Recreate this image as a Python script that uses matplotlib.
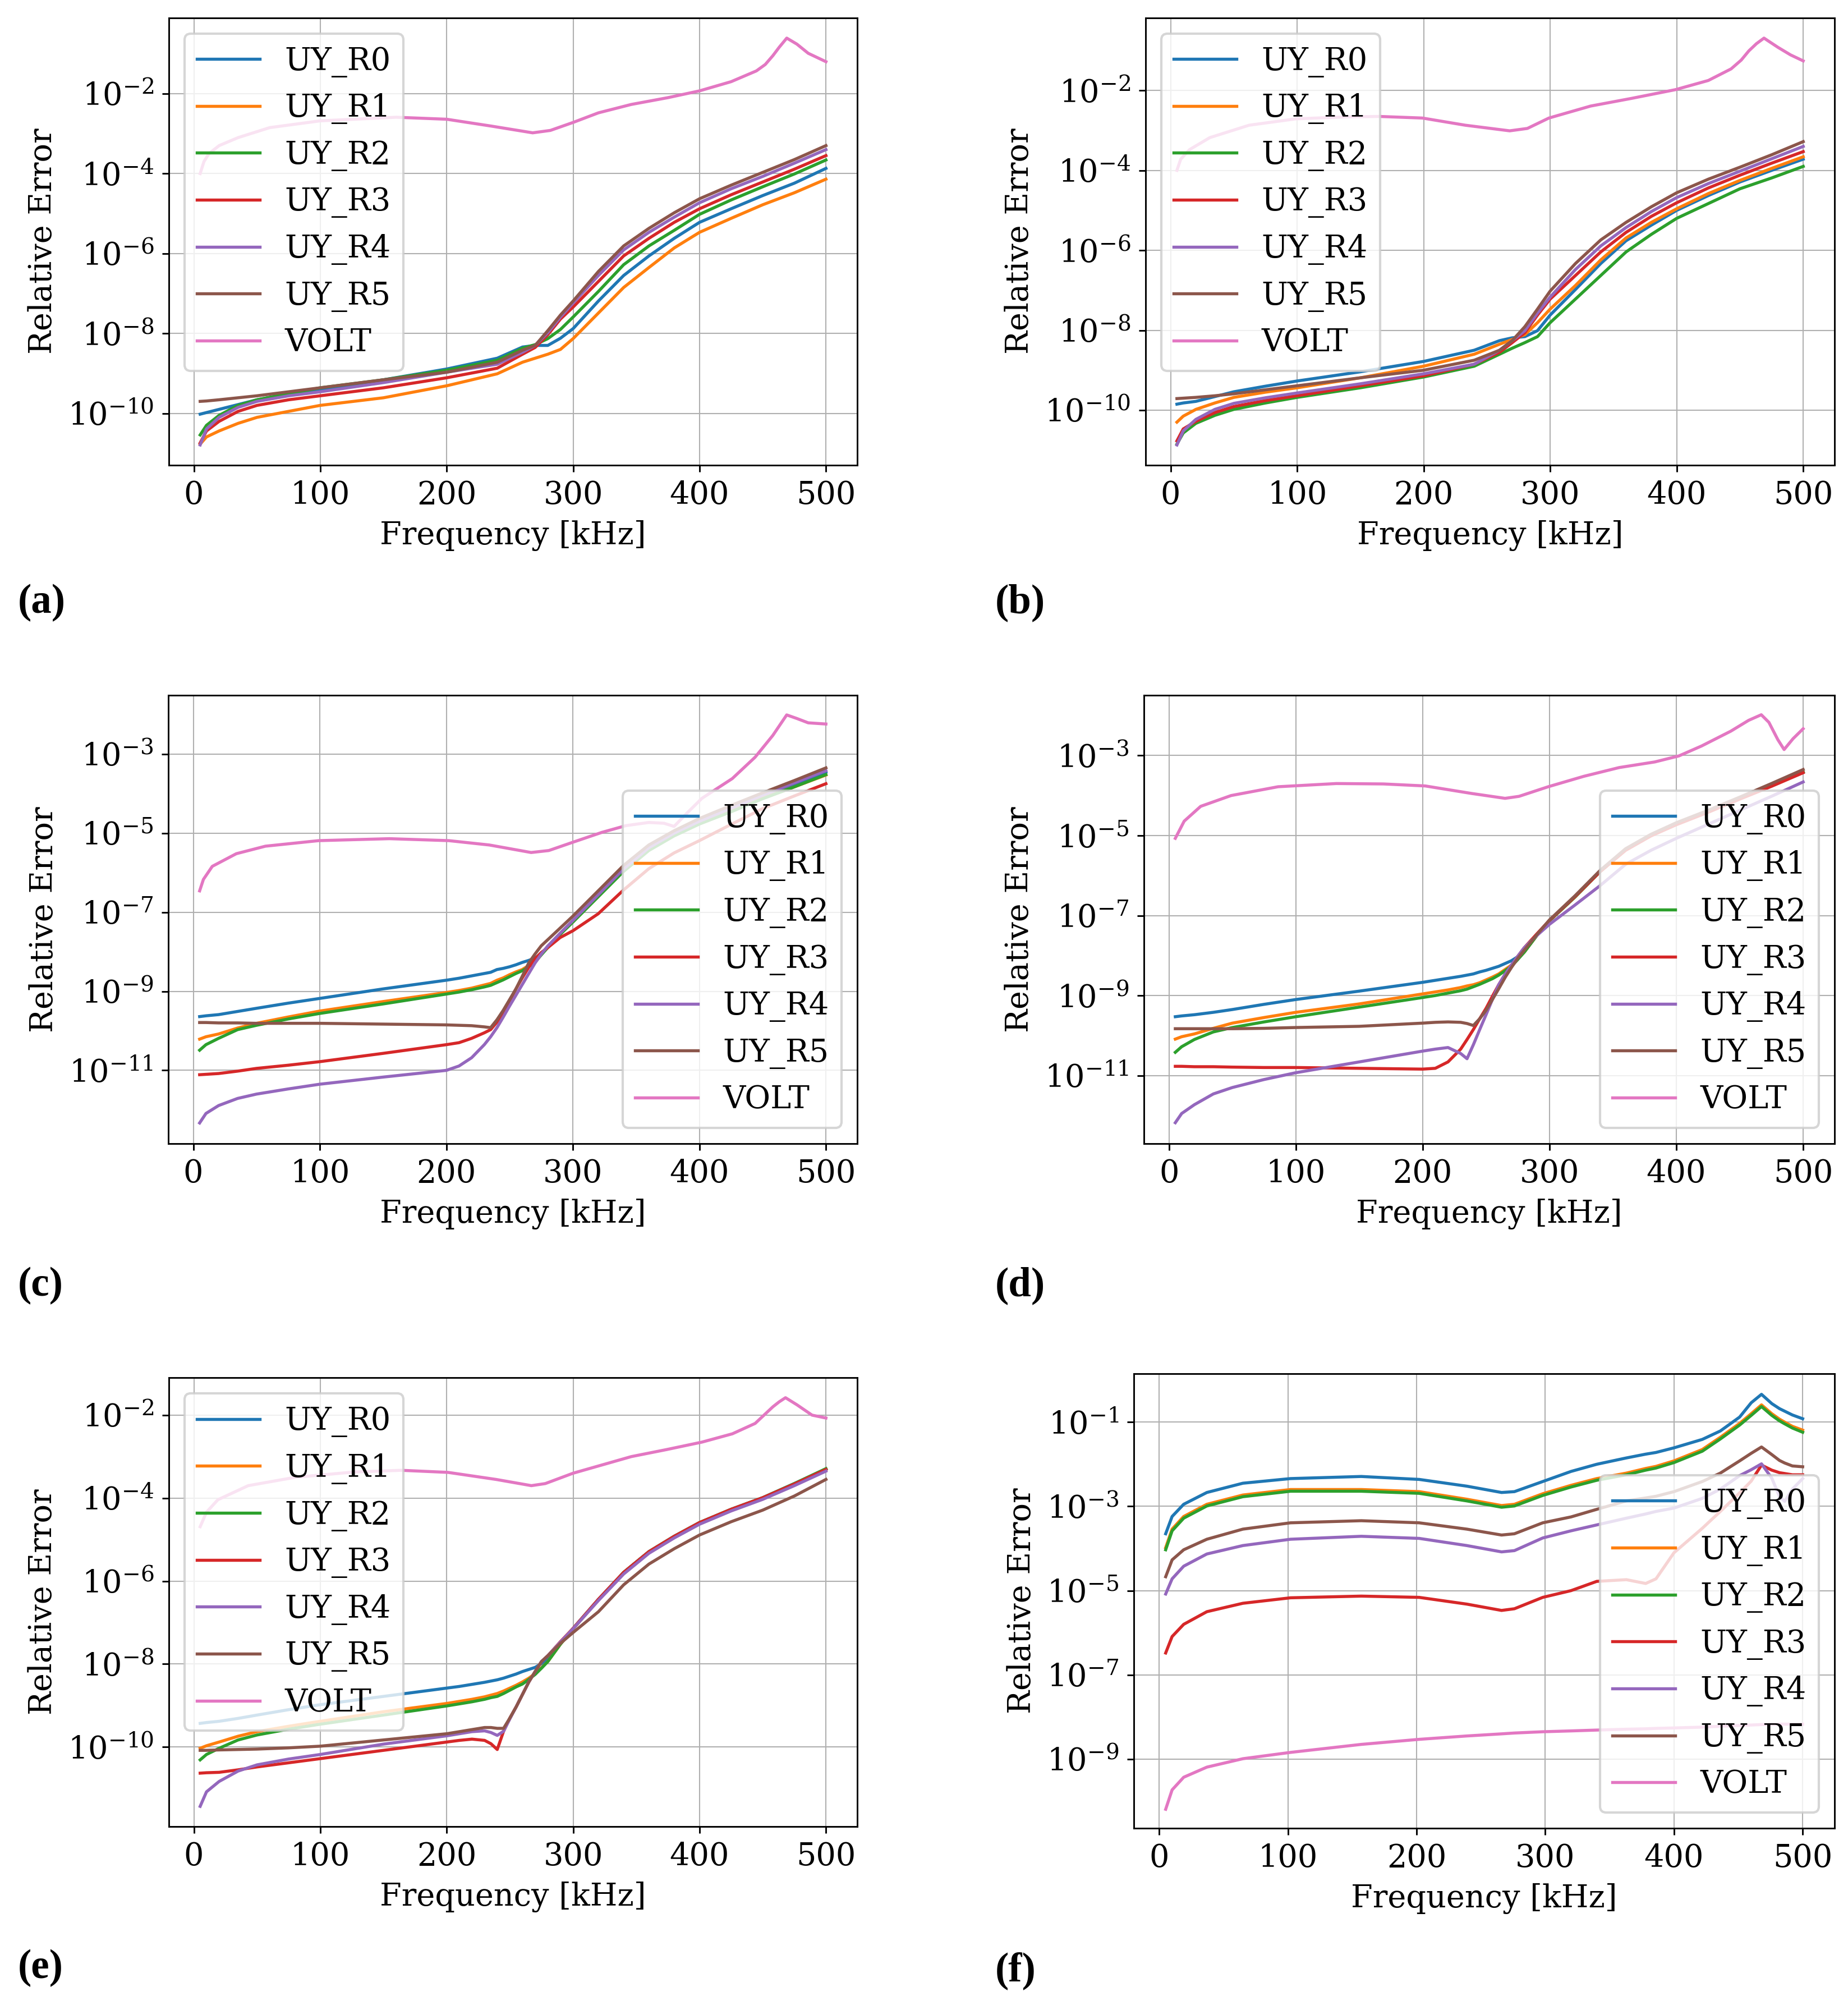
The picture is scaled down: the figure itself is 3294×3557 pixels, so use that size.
import numpy as np
import matplotlib
matplotlib.use("Agg")
import matplotlib.pyplot as plt
from matplotlib.ticker import NullLocator

# ---- data (log10 of relative error) ----
names = ['UY_R0', 'UY_R1', 'UY_R2', 'UY_R3', 'UY_R4', 'UY_R5', 'VOLT']

# panel (a)
freq_a = [5, 10, 20, 35, 50, 75, 100, 150, 200, 240, 260, 270, 280, 290, 300,
          320, 340, 360, 380, 400, 425, 450, 475, 500]
a_r0 = [-10.02, -9.98, -9.90, -9.78, -9.66, -9.51, -9.41, -9.16, -8.89, -8.62, -8.34, -8.30, -8.30, -8.12, -7.88,
        -7.19, -6.55, -6.06, -5.62, -5.22, -4.88, -4.55, -4.24, -3.87]
a_r1 = [-10.77, -10.59, -10.44, -10.25, -10.10, -9.95, -9.80, -9.61, -9.31, -9.01, -8.72, -8.62, -8.52, -8.40, -8.13,
        -7.49, -6.85, -6.35, -5.86, -5.47, -5.12, -4.78, -4.48, -4.14]
a_r2 = [-10.54, -10.30, -10.05, -9.80, -9.66, -9.51, -9.36, -9.16, -8.92, -8.67, -8.37, -8.28, -8.13, -7.90, -7.59,
        -6.95, -6.28, -5.81, -5.42, -5.02, -4.66, -4.33, -4.01, -3.66]
a_r3 = [-10.74, -10.44, -10.20, -9.95, -9.80, -9.66, -9.56, -9.36, -9.11, -8.87, -8.52, -8.35, -8.03, -7.64, -7.34,
        -6.70, -6.06, -5.62, -5.22, -4.88, -4.53, -4.21, -3.89, -3.55]
a_r4 = [-10.79, -10.39, -10.10, -9.85, -9.70, -9.56, -9.46, -9.23, -8.97, -8.77, -8.47, -8.30, -7.98, -7.59, -7.24,
        -6.55, -5.91, -5.47, -5.09, -4.73, -4.38, -4.07, -3.74, -3.40]
a_r5 = [-9.70, -9.69, -9.66, -9.61, -9.56, -9.46, -9.36, -9.16, -8.97, -8.72, -8.42, -8.30, -7.93, -7.54, -7.19,
        -6.45, -5.81, -5.37, -4.98, -4.63, -4.29, -3.97, -3.65, -3.30]
freq_a_volt = [5, 8, 12, 20, 35, 60, 100, 160, 200, 235, 268, 282, 300, 320, 346, 375, 400, 425, 445, 452, 458,
               463, 469, 477, 486, 500]
a_volt = [-4.00, -3.70, -3.50, -3.30, -3.10, -2.85, -2.68, -2.59, -2.64, -2.81, -2.98, -2.92, -2.72, -2.48, -2.27,
          -2.10, -1.93, -1.70, -1.43, -1.27, -1.05, -0.84, -0.61, -0.76, -0.99, -1.20]

# panel (b)
freq_b = freq_a
b_r0 = [-9.85, -9.82, -9.78, -9.66, -9.54, -9.40, -9.27, -9.04, -8.78, -8.50, -8.26, -8.19, -8.16, -8.01, -7.62,
        -6.98, -6.33, -5.76, -5.37, -5.00, -4.63, -4.29, -4.00, -3.72]
b_r1 = [-10.30, -10.15, -9.98, -9.82, -9.68, -9.55, -9.44, -9.19, -8.90, -8.60, -8.35, -8.23, -8.11, -7.81, -7.47,
        -6.88, -6.24, -5.69, -5.30, -4.96, -4.58, -4.25, -3.95, -3.66]
b_r2 = [-10.85, -10.57, -10.33, -10.13, -9.98, -9.82, -9.68, -9.44, -9.17, -8.90, -8.60, -8.45, -8.31, -8.16, -7.81,
        -7.22, -6.63, -6.04, -5.60, -5.20, -4.83, -4.46, -4.19, -3.90]
b_r3 = [-10.77, -10.47, -10.28, -10.06, -9.91, -9.76, -9.64, -9.39, -9.14, -8.85, -8.55, -8.31, -8.06, -7.62, -7.22,
        -6.63, -6.04, -5.55, -5.15, -4.81, -4.44, -4.12, -3.82, -3.53]
b_r4 = [-10.87, -10.52, -10.23, -9.98, -9.83, -9.69, -9.57, -9.34, -9.09, -8.85, -8.50, -8.26, -8.01, -7.57, -7.17,
        -6.48, -5.89, -5.43, -5.03, -4.68, -4.33, -4.02, -3.71, -3.40]
b_r5 = [-9.71, -9.70, -9.68, -9.64, -9.59, -9.49, -9.39, -9.19, -9.00, -8.75, -8.50, -8.26, -7.91, -7.47, -7.02,
        -6.33, -5.74, -5.30, -4.91, -4.56, -4.22, -3.92, -3.61, -3.28]
freq_b_volt = [5, 8, 15, 31, 62, 99, 140, 165, 199, 233, 268, 282, 299, 332, 364, 399, 425, 443, 451, 457, 463,
               469, 480, 490, 500]
b_volt = [-4.00, -3.72, -3.48, -3.18, -2.87, -2.71, -2.66, -2.65, -2.69, -2.87, -3.01, -2.95, -2.69, -2.39, -2.20,
          -1.98, -1.75, -1.46, -1.24, -1.01, -0.83, -0.69, -0.92, -1.11, -1.26]

# panels (c), (d), (e) share one frequency list
freq_cde = [5, 10, 20, 35, 50, 75, 100, 150, 200, 210, 220, 230, 235, 240, 245, 250, 255, 260, 265, 270, 275,
            280, 290, 300, 320, 340, 360, 380, 400, 425, 450, 475, 500]

c_r0 = [-9.64, -9.62, -9.59, -9.51, -9.43, -9.30, -9.18, -8.94, -8.72, -8.67, -8.61, -8.55, -8.52, -8.45, -8.42,
        -8.38, -8.33, -8.27, -8.22, -8.16, -8.05, -7.88, -7.54, -7.22, -6.57, -5.92, -5.38, -5.01, -4.71, -4.39,
        -4.06, -3.76, -3.46]
c_r1 = [-10.21, -10.15, -10.08, -9.93, -9.81, -9.65, -9.50, -9.26, -9.03, -8.98, -8.92, -8.84, -8.80, -8.72, -8.66,
        -8.58, -8.51, -8.45, -8.35, -8.23, -8.05, -7.88, -7.55, -7.24, -6.60, -5.95, -5.42, -5.06, -4.76, -4.45,
        -4.12, -3.83, -3.53]
c_r2 = [-10.49, -10.35, -10.19, -9.97, -9.86, -9.70, -9.56, -9.32, -9.07, -9.02, -8.96, -8.89, -8.85, -8.78, -8.71,
        -8.63, -8.55, -8.48, -8.38, -8.27, -8.08, -7.90, -7.56, -7.25, -6.61, -5.97, -5.44, -5.07, -4.77, -4.46,
        -4.13, -3.83, -3.52]
c_r3 = [-11.11, -11.10, -11.08, -11.02, -10.95, -10.87, -10.78, -10.57, -10.35, -10.30, -10.19, -10.05, -9.97, -9.78,
        -9.54, -9.25, -8.94, -8.66, -8.40, -8.18, -8.02, -7.90, -7.64, -7.47, -7.04, -6.44, -5.90, -5.50, -5.19,
        -4.78, -4.38, -4.06, -3.75]
c_r4 = [-12.33, -12.09, -11.89, -11.71, -11.60, -11.47, -11.35, -11.17, -11.00, -10.89, -10.68, -10.35, -10.15,
        -9.92, -9.65, -9.37, -9.10, -8.83, -8.56, -8.29, -8.06, -7.86, -7.53, -7.21, -6.56, -5.91, -5.37, -5.00,
        -4.70, -4.37, -4.04, -3.73, -3.42]
c_r5 = [-9.79, -9.79, -9.80, -9.80, -9.81, -9.81, -9.81, -9.83, -9.85, -9.86, -9.87, -9.90, -9.92, -9.72, -9.48,
        -9.21, -8.94, -8.62, -8.29, -8.06, -7.85, -7.70, -7.40, -7.10, -6.46, -5.82, -5.30, -4.94, -4.63, -4.30,
        -3.98, -3.67, -3.35]
freq_c_volt = [5, 8, 15, 34, 57, 99, 155, 202, 234, 267, 281, 300, 323, 342, 360, 372, 380, 390, 402, 426, 444,
               458, 469, 477, 486, 500]
c_volt = [-6.46, -6.17, -5.84, -5.52, -5.33, -5.19, -5.14, -5.19, -5.30, -5.49, -5.44, -5.23, -4.98, -4.81, -4.73,
          -4.75, -4.83, -4.50, -4.12, -3.62, -3.08, -2.53, -2.01, -2.10, -2.21, -2.24]

d_r0 = [-9.53, -9.51, -9.48, -9.42, -9.35, -9.22, -9.10, -8.89, -8.67, -8.62, -8.57, -8.52, -8.49, -8.46, -8.41,
        -8.37, -8.32, -8.27, -8.20, -8.13, -8.03, -7.92, -7.50, -7.13, -6.54, -5.90, -5.36, -5.00, -4.72, -4.40,
        -4.07, -3.74, -3.41]
d_r1 = [-10.09, -10.03, -9.96, -9.82, -9.69, -9.55, -9.42, -9.21, -8.96, -8.91, -8.86, -8.80, -8.76, -8.73, -8.68,
        -8.61, -8.54, -8.46, -8.35, -8.24, -8.08, -7.92, -7.50, -7.13, -6.54, -5.90, -5.36, -5.00, -4.72, -4.40,
        -4.07, -3.74, -3.41]
d_r2 = [-10.42, -10.28, -10.10, -9.91, -9.80, -9.66, -9.53, -9.29, -9.05, -9.00, -8.94, -8.88, -8.84, -8.78, -8.72,
        -8.65, -8.58, -8.49, -8.38, -8.27, -8.10, -7.92, -7.50, -7.13, -6.54, -5.90, -5.36, -5.00, -4.72, -4.40,
        -4.07, -3.74, -3.41]
d_r3 = [-10.77, -10.77, -10.78, -10.78, -10.79, -10.80, -10.80, -10.82, -10.84, -10.82, -10.66, -10.34, -10.10,
        -9.85, -9.58, -9.32, -9.02, -8.73, -8.47, -8.24, -8.02, -7.81, -7.46, -7.12, -6.53, -5.90, -5.37, -5.01,
        -4.73, -4.42, -4.09, -3.77, -3.43]
d_r4 = [-12.18, -11.95, -11.73, -11.46, -11.30, -11.10, -10.93, -10.66, -10.39, -10.34, -10.30, -10.45, -10.58,
        -10.23, -9.85, -9.48, -9.10, -8.73, -8.47, -8.24, -8.02, -7.81, -7.50, -7.22, -6.74, -6.25, -5.72, -5.37,
        -5.07, -4.72, -4.37, -4.02, -3.66]
d_r5 = [-9.83, -9.83, -9.83, -9.83, -9.83, -9.82, -9.80, -9.77, -9.69, -9.67, -9.66, -9.67, -9.70, -9.75, -9.58,
        -9.37, -9.10, -8.83, -8.55, -8.30, -8.07, -7.87, -7.48, -7.11, -6.51, -5.87, -5.33, -4.97, -4.68, -4.37,
        -4.04, -3.70, -3.35]
freq_d_volt = [5, 12, 25, 49, 86, 132, 169, 202, 239, 265, 276, 299, 327, 355, 383, 402, 420, 443, 457, 467,
               473, 480, 485, 492, 500]
d_volt = [-5.07, -4.64, -4.27, -4.00, -3.78, -3.70, -3.71, -3.76, -3.95, -4.07, -4.02, -3.78, -3.52, -3.30, -3.16,
          -3.01, -2.76, -2.39, -2.12, -1.98, -2.17, -2.60, -2.85, -2.58, -2.33]

e_r0 = [-9.43, -9.41, -9.38, -9.31, -9.23, -9.10, -8.98, -8.78, -8.58, -8.54, -8.49, -8.44, -8.41, -8.38, -8.34,
        -8.29, -8.24, -8.18, -8.13, -8.08, -7.99, -7.89, -7.50, -7.14, -6.44, -5.79, -5.29, -4.92, -4.59, -4.27,
        -3.99, -3.65, -3.30]
e_r1 = [-10.03, -9.97, -9.88, -9.74, -9.63, -9.50, -9.38, -9.15, -8.95, -8.90, -8.85, -8.79, -8.75, -8.71, -8.65,
        -8.58, -8.51, -8.43, -8.34, -8.23, -8.09, -7.94, -7.52, -7.15, -6.45, -5.80, -5.30, -4.93, -4.60, -4.28,
        -4.00, -3.66, -3.30]
e_r2 = [-10.31, -10.18, -10.03, -9.83, -9.71, -9.57, -9.45, -9.23, -9.01, -8.96, -8.91, -8.85, -8.81, -8.78, -8.71,
        -8.63, -8.55, -8.48, -8.37, -8.25, -8.10, -7.94, -7.52, -7.15, -6.45, -5.79, -5.29, -4.92, -4.59, -4.27,
        -3.99, -3.65, -3.29]
e_r3 = [-10.63, -10.62, -10.61, -10.55, -10.48, -10.38, -10.28, -10.08, -9.88, -9.84, -9.81, -9.84, -9.92, -10.06,
        -9.62, -9.30, -9.03, -8.73, -8.43, -8.18, -7.94, -7.80, -7.46, -7.14, -6.44, -5.79, -5.29, -4.92, -4.59,
        -4.27, -3.99, -3.66, -3.31]
e_r4 = [-11.43, -11.08, -10.83, -10.58, -10.43, -10.29, -10.18, -9.93, -9.73, -9.68, -9.63, -9.61, -9.65, -9.72,
        -9.62, -9.32, -9.03, -8.73, -8.43, -8.18, -7.94, -7.80, -7.47, -7.15, -6.47, -5.83, -5.33, -4.96, -4.63,
        -4.31, -4.03, -3.70, -3.35]
e_r5 = [-10.08, -10.08, -10.07, -10.06, -10.05, -10.02, -9.98, -9.83, -9.68, -9.63, -9.58, -9.53, -9.53, -9.55,
        -9.55, -9.30, -9.03, -8.73, -8.43, -8.18, -7.94, -7.80, -7.50, -7.24, -6.74, -6.09, -5.59, -5.22, -4.89,
        -4.57, -4.29, -3.95, -3.55]
freq_e_volt = [5, 10, 19, 43, 80, 127, 164, 201, 239, 267, 278, 300, 323, 346, 374, 402, 426, 444, 451, 458, 463,
               468, 477, 489, 500]
e_volt = [-4.69, -4.34, -4.04, -3.70, -3.50, -3.37, -3.33, -3.38, -3.55, -3.70, -3.65, -3.40, -3.20, -3.00, -2.83,
          -2.65, -2.45, -2.20, -2.00, -1.80, -1.68, -1.58, -1.75, -2.00, -2.07]

# panel (f)
freq_f = [5, 10, 19, 37, 65, 102, 157, 202, 239, 266, 276, 298, 320, 340, 363, 378, 386, 400, 422, 436, 451,
          460, 468, 476, 482, 486, 492, 500]
f_r0 = [-3.65, -3.24, -2.95, -2.67, -2.45, -2.34, -2.29, -2.36, -2.52, -2.67, -2.65, -2.41, -2.17, -2.00, -1.85,
        -1.76, -1.72, -1.61, -1.41, -1.21, -0.88, -0.54, -0.34, -0.56, -0.68, -0.74, -0.83, -0.92]
f_r1 = [-3.98, -3.54, -3.24, -2.95, -2.73, -2.60, -2.60, -2.65, -2.83, -2.98, -2.95, -2.70, -2.50, -2.34, -2.21,
        -2.10, -2.05, -1.92, -1.65, -1.36, -1.03, -0.80, -0.59, -0.80, -0.93, -1.00, -1.10, -1.19]
f_r2 = [-4.03, -3.58, -3.28, -2.99, -2.77, -2.64, -2.64, -2.69, -2.87, -3.02, -2.99, -2.74, -2.54, -2.38, -2.25,
        -2.14, -2.09, -1.96, -1.69, -1.40, -1.07, -0.84, -0.63, -0.84, -0.97, -1.04, -1.14, -1.24]
f_r3 = [-6.48, -6.09, -5.80, -5.50, -5.30, -5.17, -5.13, -5.16, -5.32, -5.47, -5.43, -5.16, -5.00, -4.78, -4.74,
        -4.83, -4.72, -4.10, -3.52, -3.12, -2.68, -2.40, -2.02, -2.14, -2.20, -2.22, -2.25, -2.25]
f_r4 = [-5.08, -4.72, -4.42, -4.13, -3.93, -3.78, -3.71, -3.76, -3.93, -4.08, -4.05, -3.75, -3.58, -3.44, -3.28,
        -3.18, -3.12, -3.04, -2.81, -2.59, -2.27, -2.13, -1.99, -2.33, -2.77, -2.88, -2.59, -2.34]
f_r5 = [-4.67, -4.27, -4.03, -3.78, -3.54, -3.39, -3.34, -3.39, -3.54, -3.68, -3.65, -3.39, -3.25, -3.07, -2.87,
        -2.80, -2.76, -2.65, -2.41, -2.21, -1.92, -1.74, -1.59, -1.77, -1.91, -1.97, -2.04, -2.06]
f_volt = [-10.19, -9.73, -9.43, -9.19, -8.99, -8.84, -8.65, -8.53, -8.45, -8.40, -8.38, -8.35, -8.33, -8.31, -8.29,
          -8.28, -8.27, -8.26, -8.24, -8.22, -8.20, -8.19, -8.18, -8.17, -8.17, -8.17, -8.17, -8.17]

# ---- figure ----
plt.rcParams['font.family'] = 'serif'
plt.rcParams['font.serif'] = ['DejaVu Serif']
plt.rcParams['mathtext.fontset'] = 'dejavuserif'
plt.rcParams['font.size'] = 13.4
plt.rcParams['axes.linewidth'] = 0.7
plt.rcParams['xtick.major.size'] = 2.9
plt.rcParams['ytick.major.size'] = 2.9
plt.rcParams['xtick.major.width'] = 0.7
plt.rcParams['ytick.major.width'] = 0.7
plt.rcParams['grid.linewidth'] = 0.5
plt.rcParams['legend.edgecolor'] = '0.8'

W, H = 3294, 3557
fig = plt.figure(figsize=(W / 300, H / 300), dpi=300)


def make_ax(l, t, r, b):
    return fig.add_axes([l / W, 1 - b / H, (r - l) / W, (b - t) / H])


panels = [
    # box in pixels, ylim (log10), y tick exponents, legend loc, label, label pos
    dict(box=(301, 31.6, 1528, 828.5), ylim=(-11.29, -0.10), yt=range(-10, -1, 2), loc='upper left',
         freq=freq_a, series=[a_r0, a_r1, a_r2, a_r3, a_r4, a_r5], fv=freq_a_volt, volt=a_volt,
         lab='(a)', lpos=(32, 1092)),
    dict(box=(2042, 31.6, 3270, 828.5), ylim=(-11.37, -0.18), yt=range(-10, -1, 2), loc='upper left',
         freq=freq_b, series=[b_r0, b_r1, b_r2, b_r3, b_r4, b_r5], fv=freq_b_volt, volt=b_volt,
         lab='(b)', lpos=(1774, 1092)),
    dict(box=(300, 1238.8, 1528, 2037.8), ylim=(-12.85, -1.51), yt=range(-11, -2, 2), loc='lower right',
         freq=freq_cde, series=[c_r0, c_r1, c_r2, c_r3, c_r4, c_r5], fv=freq_c_volt, volt=c_volt,
         lab='(c)', lpos=(32, 2309)),
    dict(box=(2039, 1238.8, 3270, 2037.8), ylim=(-12.70, -1.49), yt=range(-11, -2, 2), loc='lower right',
         freq=freq_cde, series=[d_r0, d_r1, d_r2, d_r3, d_r4, d_r5], fv=freq_d_volt, volt=d_volt,
         lab='(d)', lpos=(1774, 2309)),
    dict(box=(301, 2455.3, 1528, 3254.5), ylim=(-11.91, -1.10), yt=range(-10, -1, 2), loc='upper left',
         freq=freq_cde, series=[e_r0, e_r1, e_r2, e_r3, e_r4, e_r5], fv=freq_e_volt, volt=e_volt,
         lab='(e)', lpos=(32, 3525)),
    dict(box=(2021, 2448, 3270, 3258), ylim=(-10.64, 0.15), yt=range(-9, 0, 2), loc='lower right',
         freq=freq_f, series=[f_r0, f_r1, f_r2, f_r3, f_r4, f_r5], fv=freq_f, volt=f_volt,
         lab='(f)', lpos=(1774, 3530)),
]

for p in panels:
    ax = make_ax(*p['box'])
    for i, s in enumerate(p['series']):
        ax.plot(p['freq'], 10.0 ** np.array(s), color='C%d' % i, lw=1.3, label=names[i])
    ax.plot(p['fv'], 10.0 ** np.array(p['volt']), color='C6', lw=1.3, label=names[6])
    ax.set_yscale('log')
    ax.set_xlim(-19.75, 524.75)
    ax.set_ylim(10.0 ** p['ylim'][0], 10.0 ** p['ylim'][1])
    ax.set_yticks([10.0 ** e for e in p['yt']])
    ax.yaxis.set_minor_locator(NullLocator())
    ax.set_xticks([0, 100, 200, 300, 400, 500])
    ax.grid(True, color='#b0b0b0')
    ax.set_xlabel('Frequency [kHz]')
    ax.set_ylabel('Relative Error')
    ax.legend(loc=p['loc'])
    fig.text(p['lpos'][0] / W, 1 - p['lpos'][1] / H, p['lab'], fontsize=17.5, fontweight='bold',
             family='Liberation Serif', ha='left', va='baseline')

fig.savefig('out.png', dpi=300)
